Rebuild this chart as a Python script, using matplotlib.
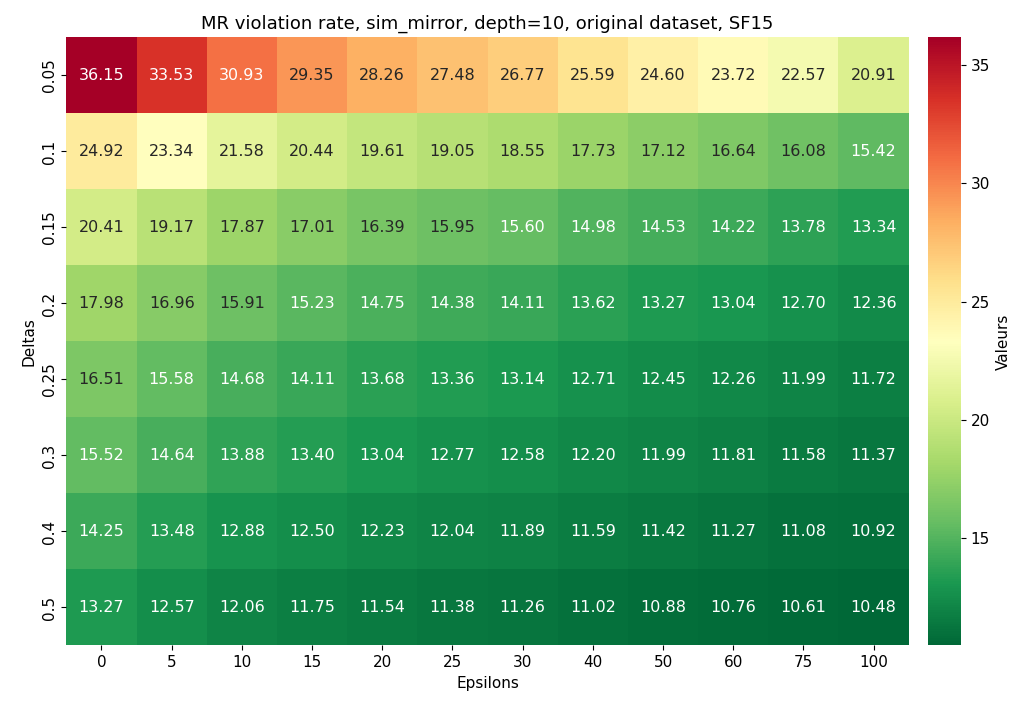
import numpy as np
import matplotlib
matplotlib.use("Agg")
import matplotlib.pyplot as plt
import seaborn as sns

# axis labels
epsilons = [0, 5, 10, 15, 20, 25, 30, 40, 50, 60, 75, 100]
deltas = [0.05, 0.1, 0.15, 0.2, 0.25, 0.3, 0.4, 0.5]

# MR violation rates, one row per delta
row_005 = [36.15, 33.53, 30.93, 29.35, 28.26, 27.48, 26.77, 25.59, 24.60, 23.72, 22.57, 20.91]
row_01 = [24.92, 23.34, 21.58, 20.44, 19.61, 19.05, 18.55, 17.73, 17.12, 16.64, 16.08, 15.42]
row_015 = [20.41, 19.17, 17.87, 17.01, 16.39, 15.95, 15.60, 14.98, 14.53, 14.22, 13.78, 13.34]
row_02 = [17.98, 16.96, 15.91, 15.23, 14.75, 14.38, 14.11, 13.62, 13.27, 13.04, 12.70, 12.36]
row_025 = [16.51, 15.58, 14.68, 14.11, 13.68, 13.36, 13.14, 12.71, 12.45, 12.26, 11.99, 11.72]
row_03 = [15.52, 14.64, 13.88, 13.40, 13.04, 12.77, 12.58, 12.20, 11.99, 11.81, 11.58, 11.37]
row_04 = [14.25, 13.48, 12.88, 12.50, 12.23, 12.04, 11.89, 11.59, 11.42, 11.27, 11.08, 10.92]
row_05 = [13.27, 12.57, 12.06, 11.75, 11.54, 11.38, 11.26, 11.02, 10.88, 10.76, 10.61, 10.48]

data = np.array([row_005, row_01, row_015, row_02, row_025, row_03, row_04, row_05])

fig = plt.figure(figsize=(10.21, 7.07), dpi=100)
ax = fig.add_axes([0.065, 0.087, 0.825, 0.86])
cax = fig.add_axes([0.909, 0.087, 0.032, 0.86])

sns.heatmap(data, ax=ax, cbar_ax=cax, cmap="RdYlGn_r", annot=True, fmt=".2f",
            annot_kws={"size": 11.5},
            xticklabels=epsilons, yticklabels=deltas,
            cbar_kws={"label": "Valeurs"})

ax.set_title("MR violation rate, sim_mirror, depth=10, original dataset, SF15", fontsize=13)
ax.set_xlabel("Epsilons", fontsize=11)
ax.set_ylabel("Deltas", fontsize=11)
ax.tick_params(labelsize=11)
cax.tick_params(labelsize=11)
cax.yaxis.label.set_size(11)

fig.savefig("out.png", dpi=100)
